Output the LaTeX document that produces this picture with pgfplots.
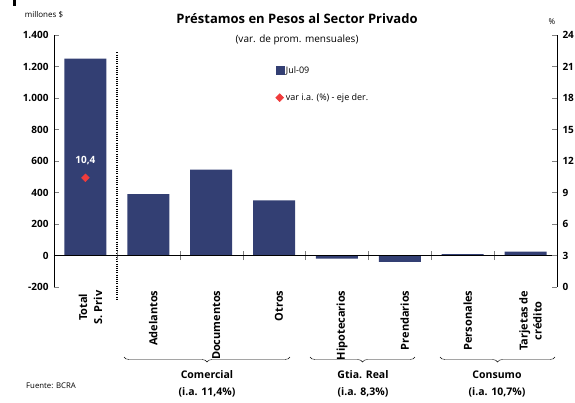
\documentclass[border=0pt]{standalone}
\usepackage{fontspec}
\setmainfont{Open Sans}
\usepackage{pgfplots}
\pgfplotsset{compat=1.18}
\usetikzlibrary{decorations.pathreplacing}
\definecolor{navy}{RGB}{51,63,115}
\definecolor{dred}{RGB}{240,60,60}
\tikzset{catlab/.style={rotate=90, anchor=east, align=center, font=\bfseries\fontsize{11}{12}\selectfont, yshift=-5pt}}
\begin{document}
\begin{tikzpicture}[x=1pt,y=1pt]
\path[use as bounding box] (0pt,0pt) rectangle (575pt,-402pt);
\fill (13pt,0pt) rectangle (15.5pt,-6pt);
\begin{axis}[
  at={(54pt,-287pt)}, anchor=south west, scale only axis,
  width=503pt, height=252pt,
  xmin=-0.5, xmax=7.5, ymin=-200, ymax=1400,
  axis y line*=left, axis x line=none,
  xtick=\empty,
  tick align=inside, major tick length=5pt,
  ytick={-200,0,200,400,600,800,1000,1200,1400},
  yticklabels={-200,0,200,400,600,800,1.000,1.200,1.400},
  yticklabel style={font=\bfseries\fontsize{10}{12}\selectfont, xshift=-2pt},
  clip=false,
]
\addplot[ybar, bar width=42pt, bar shift=0pt, fill=navy, draw=none]
  coordinates {(0,1250) (1,390) (2,545) (3,350) (4,-20) (5,-40) (6,8) (7,25)};
\draw[line width=1.3pt, dash pattern=on 1.1pt off 1.1pt] (axis cs:0.5,1290) -- (axis cs:0.5,-283);
\node[catlab] at (axis cs:0,-200) {Total\\[3pt]S. Priv};
\node[catlab] at (axis cs:1,-200) {Adelantos};
\node[catlab] at (axis cs:2,-200) {Documentos};
\node[catlab] at (axis cs:3,-200) {Otros};
\node[catlab] at (axis cs:4,-200) {Hipotecarios};
\node[catlab] at (axis cs:5,-200) {Prendarios};
\node[catlab] at (axis cs:6,-200) {Personales};
\node[catlab] at (axis cs:7,-200) {Tarjetas de\\[2pt]crédito};
\end{axis}
\begin{axis}[
  at={(54pt,-287pt)}, anchor=south west, scale only axis,
  width=503pt, height=252pt,
  xmin=-0.5, xmax=7.5, ymin=-200, ymax=1400,
  axis y line=none, axis x line*=middle,
  xtick={0.5,1.5,...,6.5}, xticklabels={},
  tick align=center, major tick length=9pt,
  axis line style={line width=0.8pt},
]
\end{axis}
\begin{axis}[
  at={(54pt,-287pt)}, anchor=south west, scale only axis,
  width=503pt, height=252pt,
  xmin=-0.5, xmax=7.5, ymin=0, ymax=24,
  axis y line*=right, axis x line=none,
  ytick={0,3,...,24},
  tick align=inside, major tick length=5pt,
  yticklabel style={font=\bfseries\fontsize{10}{12}\selectfont, xshift=2pt},
  /pgf/number format/assume math mode=true,
  clip=false,
  legend style={at={(0.44,0.885)}, anchor=north west, draw=none, fill=none,
    inner sep=0pt, row sep=15pt, font=\fontsize{9}{10}\selectfont,
    cells={anchor=west}},
]
\addlegendimage{legend image code/.code={\fill[navy] (0pt,-4pt) rectangle (8pt,4pt);}}
\addlegendentry{Jul-09}
\addplot[only marks, mark=square*, mark size=2.8pt, mark options={rotate=45, fill=dred, draw=dred},
  legend image code/.code={\fill[dred] (4pt,4pt) -- (0pt,0pt) -- (4pt,-4pt) -- (8pt,0pt) -- cycle;}]
  coordinates {(0,10.4)};
\addlegendentry{var i.a. (\%) - eje der.}
\node[white, font=\bfseries\fontsize{10}{12}\selectfont] at (axis cs:0,10.4) [yshift=17pt] {10,4};
\end{axis}
\node[font=\bfseries\fontsize{13}{15}\selectfont] at (297pt,-19pt) {Préstamos en Pesos al Sector Privado};
\node[font=\fontsize{10}{12}\selectfont] at (297pt,-40pt) {(var. de prom. mensuales)};
\node[font=\fontsize{8}{9}\selectfont] at (44pt,-15pt) {millones \$};
\node[font=\fontsize{8}{9}\selectfont] at (552pt,-22pt) {\%};
\node[font=\fontsize{7.8}{9}\selectfont] at (51pt,-386pt) {Fuente: BCRA};
\draw[decorate, decoration={brace, mirror, amplitude=5pt}] (124pt,-357pt) -- (290pt,-357pt);
\draw[decorate, decoration={brace, mirror, amplitude=5pt}] (310pt,-357pt) -- (415pt,-357pt);
\draw[decorate, decoration={brace, mirror, amplitude=5pt}] (440pt,-357pt) -- (555pt,-357pt);
\node[font=\bfseries\fontsize{10.5}{12}\selectfont] at (207pt,-375pt) {Comercial};
\node[font=\bfseries\fontsize{10.5}{12}\selectfont] at (207pt,-392pt) {(i.a. 11,4\%)};
\node[font=\bfseries\fontsize{10.5}{12}\selectfont] at (363pt,-375pt) {Gtia. Real};
\node[font=\bfseries\fontsize{10.5}{12}\selectfont] at (363pt,-392pt) {(i.a. 8,3\%)};
\node[font=\bfseries\fontsize{10.5}{12}\selectfont] at (497pt,-375pt) {Consumo};
\node[font=\bfseries\fontsize{10.5}{12}\selectfont] at (497pt,-392pt) {(i.a. 10,7\%)};
\end{tikzpicture}
\end{document}
